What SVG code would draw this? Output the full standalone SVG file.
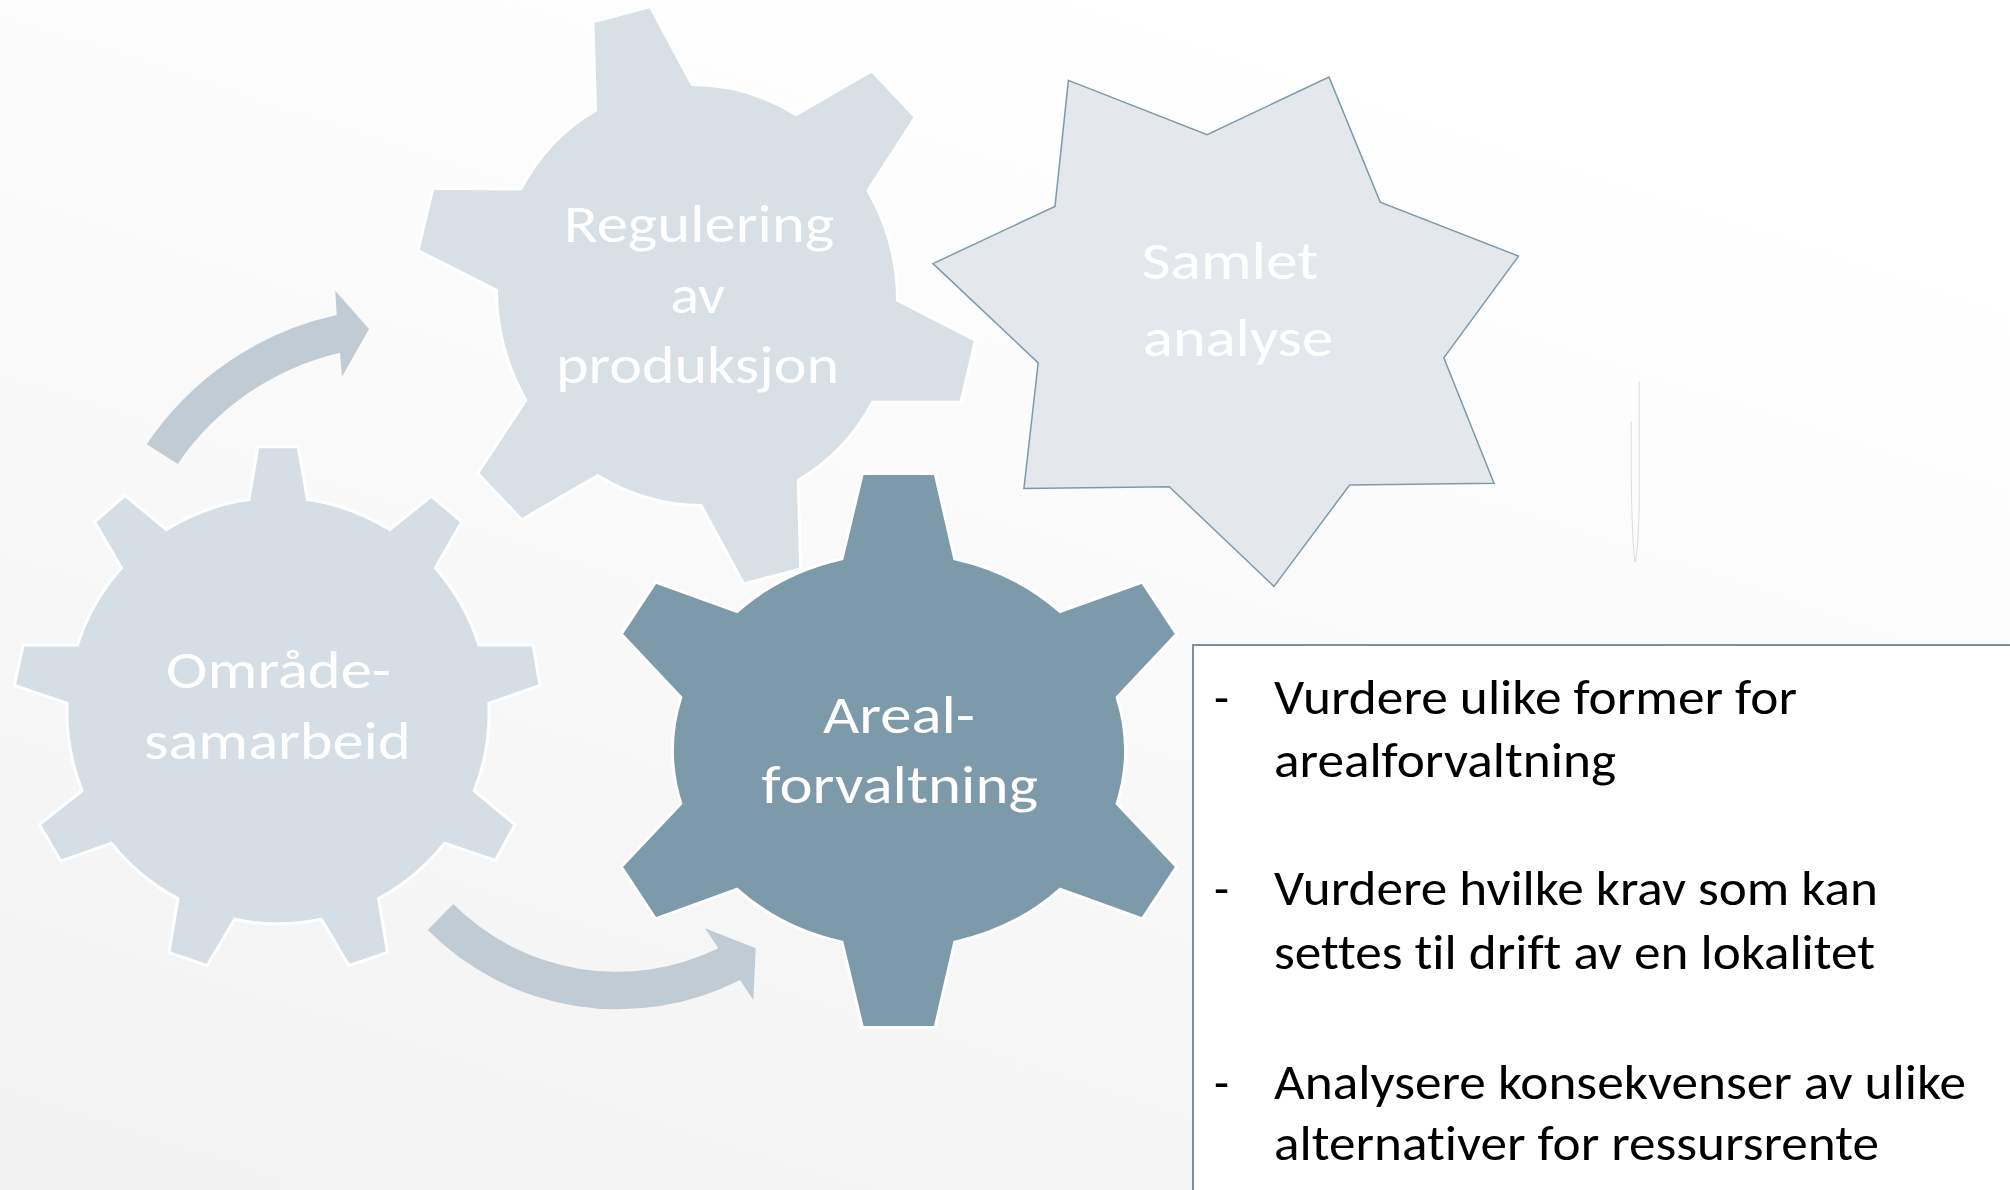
<svg xmlns="http://www.w3.org/2000/svg" width="2010" height="1190" viewBox="0 0 2010 1190">
<defs>
<linearGradient id="bg" x1="0" y1="1" x2="0.55" y2="0">
<stop offset="0" stop-color="#f2f2f2"/>
<stop offset="1" stop-color="#ffffff"/>
</linearGradient>
<style>
.gear{stroke:#ffffff;stroke-width:3;stroke-linejoin:miter}
.g1{fill:#d5dee4}
.g2{fill:#d8dfe5}
.g3{fill:#7d9aab}
.star{fill:#e4e8ed;stroke:#7d9aab;stroke-width:1.5}
.arrow{fill:#c0cbd4}
.lbl{font-family:Carlito,Calibri,Lato,"Open Sans",sans-serif;font-size:54px;fill:#ffffff;font-variant-ligatures:none}
.bt{font-family:Carlito,Calibri,Lato,"Open Sans",sans-serif;font-size:49px;fill:#000000;font-variant-ligatures:none}
.box{fill:#ffffff;stroke:#7f8f9c;stroke-width:2}
</style>
</defs>
<rect x="0" y="0" width="2010" height="1190" fill="url(#bg)"/>
<path d="M1639.3,381.7 L1639.3,500 Q1638.5,550 1635,562 Q1632,540 1631.3,480 L1631.3,421.7" fill="none" stroke="#dcdcdc" stroke-width="1"/>

<g id="connectors">
<path class="arrow" d="M146.7,444.3 A308 308 0 0 1 336.7,315 L335.3,290.7 L369,329 L342,376.7 L340,352.7 A271 271 0 0 0 177.7,464 Z"/>
<path class="arrow" d="M453.3,904 A231 231 0 0 0 718.3,948.3 L705,928.3 L755.7,948.3 L753.3,1000 L740,980 A268 268 0 0 1 427.7,930 Z"/>
</g>

<g id="regulering">
<path class="gear g2" d="M592.9,21.8 L650.3,6.5 L692,84.6 A200 211 -15 0 1 796,114.8 L871.8,70.8 L915.4,117.1 L868,190.6 A200 211 -15 0 1 897.5,300.4 L975.5,340.2 L961,402.2 L872.6,402.2 A200 211 -15 0 1 798.3,480.2 L800.6,569 L743.6,583.9 L701.2,505.5 A200 211 -15 0 1 597.8,475.6 L521.7,519.7 L477.7,473.3 L525.9,399.9 A200 211 -15 0 1 496.4,290.1 L418,250.6 L432.9,188.3 L520.9,189 A200 211 -15 0 1 595.5,110.2 Z"/>
<text class="lbl" x="563.8" y="242.2" textLength="270.5" lengthAdjust="spacingAndGlyphs">Regulering</text>
<text class="lbl" x="670.2" y="313" textLength="55" lengthAdjust="spacingAndGlyphs">av</text>
<text class="lbl" x="556" y="383.4" textLength="283" lengthAdjust="spacingAndGlyphs">produksjon</text>
</g>

<g id="omrade">
<path class="gear g1" d="M257.9,446.8 L298.2,446.8 L307.5,499.6 A212 212 0 0 1 389.6,529.6 L431.4,496.1 L461.8,521.8 L435.4,567.9 A212 212 0 0 1 478.9,645 L533.2,645 L540,685.4 L488.9,703.2 A212 212 0 0 1 474.3,790.7 L515,824.6 L495.4,860.4 L444.6,843.2 A212 212 0 0 1 378.6,898.6 L387.5,952.5 L348.9,965.7 L321.4,919.3 A212 212 0 0 1 234.6,919.3 L207.1,965.7 L168.9,952.5 L177.9,898.6 A212 212 0 0 1 111.4,843.2 L60.7,861.1 L39.3,824.6 L82.1,790.7 A212 212 0 0 1 67.1,703.2 L14.3,685.4 L23.2,645 L77.5,645 A212 212 0 0 1 121.4,567.9 L94.6,521.8 L125,495.4 L166.4,529.6 A212 212 0 0 1 248.9,499.6 Z"/>
<text class="lbl" x="166" y="687.9" textLength="225" lengthAdjust="spacingAndGlyphs">Område-</text>
<text class="lbl" x="144" y="758.6" textLength="266.7" lengthAdjust="spacingAndGlyphs">samarbeid</text>
</g>

<g id="areal">
<path class="gear g3" d="M862.4,473.4 L935.1,473.4 L954.7,558.7 A226 198 0 0 1 1060,611.5 L1142.4,582.1 L1176.7,634.1 L1117.1,697.3 A226 198 0 0 1 1117.1,803.6 L1176.7,866.8 L1142.4,918.8 L1060,889.3 A226 198 0 0 1 954.7,942.2 L935.1,1027.5 L862.4,1027.5 L842,942.2 A226 198 0 0 1 737.1,889.3 L655.5,918.8 L621.2,866.8 L680.8,803.6 A226 198 0 0 1 680.8,697.3 L621.2,634.1 L655.5,582.1 L737.1,611.5 A226 198 0 0 1 842,558.7 Z"/>
<text class="lbl" x="822.9" y="732.8" textLength="152.2" lengthAdjust="spacingAndGlyphs">Areal-</text>
<text class="lbl" x="761.6" y="803.2" textLength="276.4" lengthAdjust="spacingAndGlyphs">forvaltning</text>
</g>

<g id="samlet">
<polygon class="star" points="1068.4,80.4 1207.1,134.6 1329,77.1 1380.2,202.1 1518.5,256.1 1443.8,357.9 1494,483.2 1349.6,485 1274,586.4 1169.3,486.8 1023.9,488.6 1038.2,362.9 933,263.6 1055,206.4"/>
<text class="lbl" x="1141.5" y="278.6" textLength="177" lengthAdjust="spacingAndGlyphs">Samlet</text>
<text class="lbl" x="1143" y="355.7" textLength="190" lengthAdjust="spacingAndGlyphs">analyse</text>
</g>

<g id="tekstboks">
<rect class="box" x="1193" y="645" width="830" height="560"/>
<text class="bt" x="1214" y="714">-</text>
<text class="bt" x="1274" y="714" textLength="523" lengthAdjust="spacingAndGlyphs">Vurdere ulike former for</text>
<text class="bt" x="1274" y="777" textLength="342" lengthAdjust="spacingAndGlyphs">arealforvaltning</text>
<text class="bt" x="1214" y="905">-</text>
<text class="bt" x="1274" y="905" textLength="604" lengthAdjust="spacingAndGlyphs">Vurdere hvilke krav som kan</text>
<text class="bt" x="1274" y="969" textLength="601" lengthAdjust="spacingAndGlyphs">settes til drift av en lokalitet</text>
<text class="bt" x="1214" y="1098.6">-</text>
<text class="bt" x="1274" y="1098.6" textLength="692" lengthAdjust="spacingAndGlyphs">Analysere konsekvenser av ulike</text>
<text class="bt" x="1274" y="1160" textLength="605" lengthAdjust="spacingAndGlyphs">alternativer for ressursrente</text>
</g>
</svg>
